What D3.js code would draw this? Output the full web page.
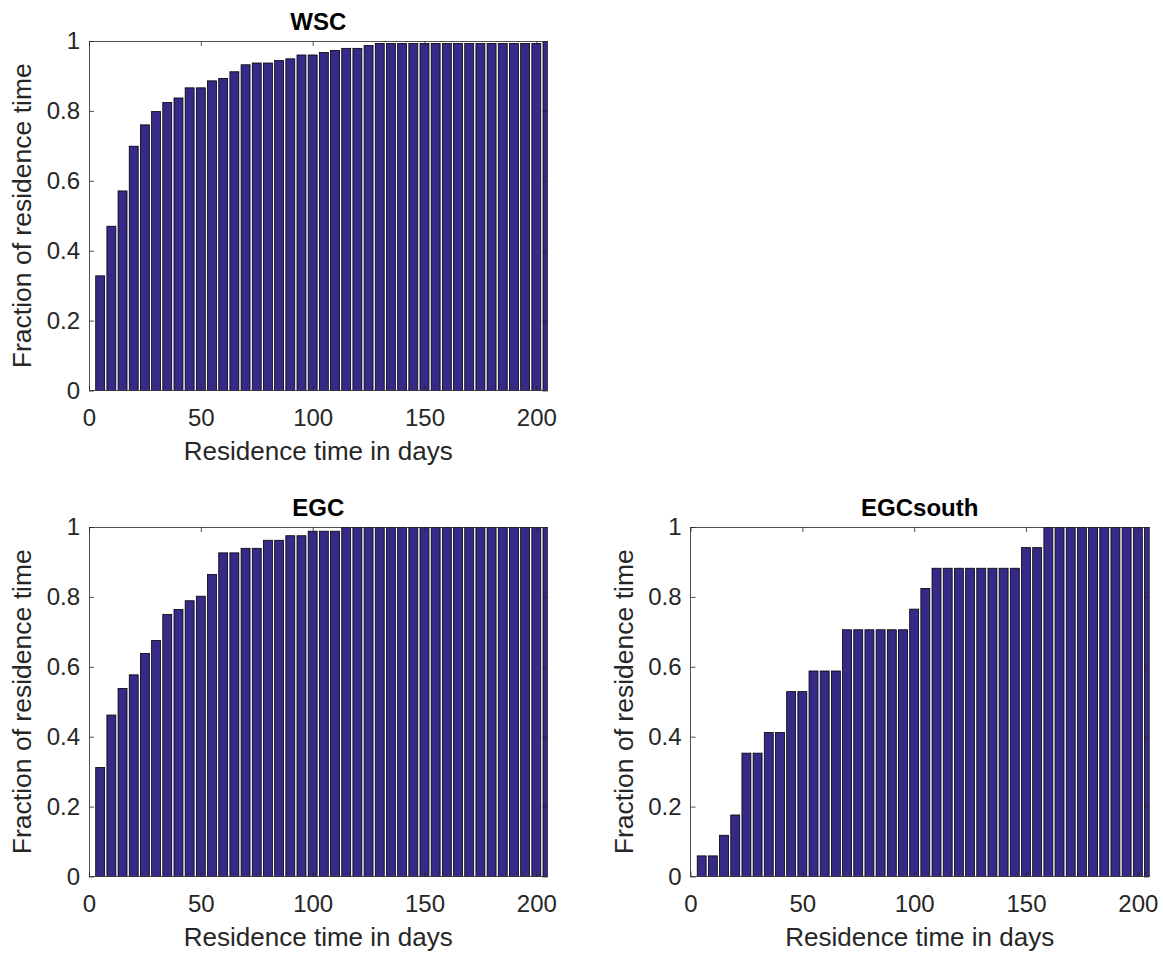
<!DOCTYPE html>
<html>
<head>
<meta charset="utf-8">
<script src="https://cdn.jsdelivr.net/npm/d3@7"></script>
<style>
  body { margin: 0; background: #fff; }
  text { font-family: "Liberation Sans", Arial, Helvetica, sans-serif; }
</style>
</head>
<body>
<svg id="fig" width="1163" height="953"></svg>
<script>
// Residence-time bins (days)
const days = [5, 10, 15, 20, 25, 30, 35, 40, 45, 50, 55, 60, 65, 70, 75, 80, 85, 90, 95, 100,
              105, 110, 115, 120, 125, 130, 135, 140, 145, 150, 155, 160, 165, 170, 175, 180,
              185, 190, 195, 200, 205];

// Cumulative fraction of residence time per region
const wscFraction = [0.328, 0.470, 0.571, 0.699, 0.760, 0.798, 0.824, 0.837, 0.866, 0.866,
                     0.886, 0.893, 0.912, 0.932, 0.937, 0.937, 0.944, 0.949, 0.960, 0.960,
                     0.967, 0.973, 0.979, 0.979, 0.987, 0.993, 0.993, 0.993, 0.993, 0.993,
                     0.993, 0.993, 0.993, 0.993, 0.993, 0.993, 0.993, 0.993, 0.993, 0.993, 1.0];

const egcFraction = [0.312, 0.462, 0.538, 0.577, 0.638, 0.675, 0.750, 0.764, 0.789, 0.802,
                     0.864, 0.926, 0.926, 0.939, 0.939, 0.962, 0.962, 0.975, 0.975, 0.988,
                     0.988, 0.988, 1.0, 1.0, 1.0, 1.0, 1.0, 1.0, 1.0, 1.0,
                     1.0, 1.0, 1.0, 1.0, 1.0, 1.0, 1.0, 1.0, 1.0, 1.0, 1.0];

const egcSouthFraction = [0.059, 0.059, 0.118, 0.176, 0.353, 0.353, 0.412, 0.412, 0.529, 0.529,
                          0.588, 0.588, 0.588, 0.706, 0.706, 0.706, 0.706, 0.706, 0.706, 0.765,
                          0.824, 0.882, 0.882, 0.882, 0.882, 0.882, 0.882, 0.882, 0.882, 0.941,
                          0.941, 1.0, 1.0, 1.0, 1.0, 1.0, 1.0, 1.0, 1.0, 1.0, 1.0];

const xTicks = [0, 50, 100, 150, 200];
const yTicks = [0, 0.2, 0.4, 0.6, 0.8, 1];
const xLabel = "Residence time in days";
const yLabel = "Fraction of residence time";

const panels = [
  { id: "wsc", title: "WSC", values: wscFraction, left: 89, top: 41 },
  { id: "egc", title: "EGC", values: egcFraction, left: 89, top: 527 },
  { id: "egcsouth", title: "EGCsouth", values: egcSouthFraction, left: 690.5, top: 527 }
];

const W = 458.5, H = 349.5;
const barFill = "#352a87";
const axisColor = "#262626";
const tickLen = 5;

const svg = d3.select("#fig");
svg.append("rect").attr("width", 1163).attr("height", 953).attr("fill", "#fff");

panels.forEach(p => {
  const x = d3.scaleLinear().domain([0, 205]).range([0, W]);
  const y = d3.scaleLinear().domain([0, 1]).range([H, 0]);
  const bw = x(4) - x(0);   // bar width = 0.8 of the 5-day spacing

  const g = svg.append("g").attr("transform", `translate(${p.left},${p.top})`);

  g.append("clipPath").attr("id", "clip-" + p.id)
    .append("rect").attr("width", W).attr("height", H);

  g.append("g").attr("clip-path", `url(#clip-${p.id})`)
    .selectAll("rect")
    .data(days.map((d, i) => ({ d, v: p.values[i] })))
    .join("rect")
      .attr("x", e => x(e.d) - bw / 2)
      .attr("y", e => y(e.v))
      .attr("width", bw)
      .attr("height", e => y(0) - y(e.v))
      .attr("fill", barFill)
      .attr("stroke", "#000")
      .attr("stroke-width", 0.8);

  const styleAxis = sel => {
    sel.selectAll(".domain").remove();
    sel.selectAll(".tick line").attr("stroke", axisColor).attr("stroke-width", 0.8);
    sel.selectAll(".tick text").attr("fill", axisColor).attr("font-size", 24);
  };

  g.append("g").attr("transform", `translate(0,${H})`)
    .call(d3.axisBottom(x).tickValues(xTicks).tickSize(-tickLen).tickPadding(18).tickFormat(d3.format("d")))
    .call(styleAxis);
  g.append("g")
    .call(d3.axisTop(x).tickValues(xTicks).tickSize(-tickLen).tickFormat(""))
    .call(styleAxis);
  g.append("g")
    .call(d3.axisLeft(y).tickValues(yTicks).tickSize(-tickLen).tickPadding(9).tickFormat(d => d3.format("~g")(d)))
    .call(styleAxis);
  g.append("g").attr("transform", `translate(${W},0)`)
    .call(d3.axisRight(y).tickValues(yTicks).tickSize(-tickLen).tickFormat(""))
    .call(styleAxis);

  // axes box
  g.append("rect").attr("width", W).attr("height", H)
    .attr("fill", "none").attr("stroke", axisColor).attr("stroke-width", 0.8)
    .attr("shape-rendering", "crispEdges");

  g.append("text")
    .attr("x", W / 2).attr("y", -11)
    .attr("text-anchor", "middle")
    .attr("font-size", 24).attr("font-weight", "bold").attr("fill", "#000")
    .text(p.title);

  g.append("text")
    .attr("x", W / 2).attr("y", H + 69)
    .attr("text-anchor", "middle")
    .attr("font-size", 26).attr("fill", axisColor)
    .text(xLabel);

  g.append("text")
    .attr("transform", `translate(-58,${H / 2}) rotate(-90)`)
    .attr("text-anchor", "middle")
    .attr("font-size", 26.5).attr("fill", axisColor)
    .text(yLabel);
});
</script>
</body>
</html>
